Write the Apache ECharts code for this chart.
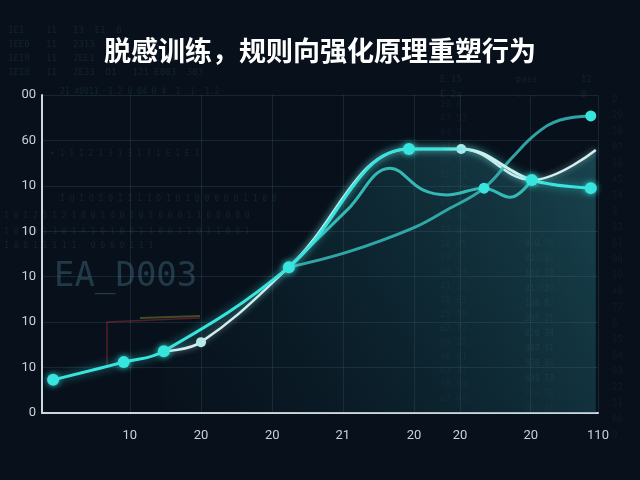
<!DOCTYPE html>
<html><head><meta charset="utf-8">
<script src="https://cdn.jsdelivr.net/npm/echarts@6/dist/echarts.min.js"></script>
<style>html,body{margin:0;padding:0;background:#07101b;}#c{width:640px;height:480px;}</style>
</head><body><div id="c"></div>
<script>
// ---- data ----
const titleText = '脱感训练，规则向强化原理重塑行为';
const xTickValues = [15.8, 28.6, 41.4, 54.1, 66.9, 75.2, 87.9, 100];
const xTickLabels = ['10', '20', '20', '21', '20', '20', '20', '110'];
const yTickLabels = ['0', '10', '10', '10', '10', '10', '60', '00'];

const cyanMain = [[2.0, 7.3], [14.7, 11.2], [21.9, 13.6], [44.4, 32.1], [66.0, 58.1], [75.4, 58.1], [88.1, 51.3], [98.7, 49.5]];
const cyanMainDot = [1, 1, 1, 1, 1, 0, 1, 1];
const whiteLine = [[21.9, 13.6], [28.6, 15.6], [44.4, 32.1], [66.0, 58.1], [75.4, 58.1], [88.1, 51.3], [99.6, 57.9]];
const whiteLineDot = [0, 1, 0, 0, 1, 0, 0];
const midTeal = [[44.4, 32.1], [54.9, 44.7], [62.6, 53.9], [68.5, 49.1], [72.8, 48.0], [79.5, 49.5], [84.2, 47.5], [88.1, 51.3]];
const midTealDot = [0, 0, 0, 0, 0, 1, 0, 0];
const lowTeal = [[44.4, 32.1], [54.9, 35.4], [66.7, 40.7], [72.8, 44.7], [79.5, 49.5], [84.7, 56.4], [89.0, 61.6], [93.2, 64.5], [98.7, 65.4]];
const lowTealDot = [0, 0, 0, 0, 0, 0, 0, 0, 1];

function withDots(arr, flags, size) {
  return arr.map((p, i) => ({ value: p, symbolSize: flags[i] ? size : 0 }));
}

const chart = echarts.init(document.getElementById('c'), null, { renderer: 'canvas' });

const faint = 'rgba(70,110,130,0.2)';
const deco = [];
function addText(x, y, t, size, color) {
  deco.push({ type: 'text', x: x, y: y, z: -10, silent: true,
    style: { text: t, fill: color || faint, font: (size || 9) + 'px "DejaVu Sans Mono", monospace' } });
}
// background "data" text
addText(8, 26, '1E1    11   I3  E1  0', 9);
addText(8, 40, '1EE0   11   2313  Q    12134', 9);
addText(8, 54, '1E19   11   2EE1  R    121 2201  303', 9);
addText(8, 68, '1E10   11   2E33  D1   121 E003  303', 9);
addText(60, 88, '21 40011  1.2 0 04 0 4  1  1  1.2', 8);
addText(440, 75, 'E 15          pass        12', 9);
addText(440, 90, 'E 2a          .  .        0', 9);
addText(50, 150, '• 1 1 I 2 1 3 1 3 1 3 1 E 1 E 1', 8);
addText(60, 195, 'I O I O I 0 I 1 1 1 O I 0 1 0 0 0 0 0 1 1 0 0', 8);
addText(4, 212, 'I 0 I 2 1 I 2 1 0 0 1 4 0 1 0 I 0 0 0 1 1 0 0 0 0 0', 8);
addText(4, 228, 'I 0 0 0 1 3 0 1 A 1 0 1 0 0 1 1 0 0 1 1 0 1 1 0 0 1', 8);
addText(4, 242, 'I 0 0 1 1 1 1 1   0 0 0 0 1 1 1', 8);
for (let i = 0; i < 22; i++) {
  const v = ((i * 37) % 90 + 10);
  addText(440, 100 + i * 14, v + ' ' + ((i * 53) % 97), 9, 'rgba(70,110,130,0.13)');
  addText(612, 95 + i * 16, String((i * 29) % 100), 9, 'rgba(70,110,130,0.13)');
  addText(525, 240 + (i % 12) * 15, ((i * 71) % 1000) + ' ' + ((i * 13) % 100), 8, 'rgba(70,110,130,0.12)');
}
deco.push({ type: 'text', x: 54, y: 260, z: -10, silent: true,
  style: { text: 'EA_D003', fill: 'rgba(60,100,115,0.5)', font: '34px "DejaVu Sans Mono", monospace' } });
deco.push({ type: 'polyline', z: -5, silent: true, shape: { points: [[107, 366], [107, 322], [200, 318]] },
  style: { stroke: 'rgba(150,40,50,0.55)', lineWidth: 1.5, fill: null } });
deco.push({ type: 'line', z: -5, silent: true, shape: { x1: 140, y1: 318, x2: 200, y2: 316 },
  style: { stroke: 'rgba(120,140,50,0.5)', lineWidth: 2 } });

const cyan = '#37e4de';
const option = {
  backgroundColor: '#07101b',
  animation: false,
  title: {
    text: titleText, left: 'center', top: 32,
    textStyle: { color: '#ffffff', fontSize: 27, fontWeight: 'bold', fontFamily: '"Noto Sans CJK SC", sans-serif' }
  },
  graphic: deco,
  grid: { left: 42, right: 42, top: 95, bottom: 67 },
  xAxis: {
    type: 'value', min: 0, max: 100,
    axisLine: { show: true, lineStyle: { color: '#cfd6dc', width: 2 } },
    axisTick: { show: false, customValues: xTickValues },
    axisLabel: {
      customValues: xTickValues, margin: 16, color: '#c9d1d8', fontSize: 13, fontFamily: 'Roboto, sans-serif',
      formatter: function (v) { const i = xTickValues.indexOf(v); return i >= 0 ? xTickLabels[i] : ''; }
    },
    splitLine: { show: true, lineStyle: { color: 'rgba(90,130,150,0.2)', width: 1 } }
  },
  yAxis: {
    type: 'value', min: 0, max: 70, interval: 10,
    axisLine: { show: true, lineStyle: { color: '#cfd6dc', width: 2 } },
    axisTick: { show: false },
    axisLabel: {
      margin: 6, color: '#c9d1d8', fontSize: 13, fontFamily: 'Roboto, sans-serif',
      formatter: function (v) { return yTickLabels[Math.round(v / 10)]; }
    },
    splitLine: { show: true, lineStyle: { color: 'rgba(90,130,150,0.2)', width: 1 } }
  },
  series: [
    {
      name: 'white', type: 'line', smooth: 0.4, z: 2,
      data: withDots(whiteLine, whiteLineDot, 10),
      symbol: 'circle', itemStyle: { color: '#b6e8e8' },
      lineStyle: { color: '#d6eef0', width: 2.5, shadowBlur: 6, shadowColor: 'rgba(200,255,255,0.5)' },
      areaStyle: {
        color: new echarts.graphic.LinearGradient(0, 1, 1, 0, [
          { offset: 0, color: 'rgba(20,60,70,0.05)' },
          { offset: 0.5, color: 'rgba(30,100,110,0.35)' },
          { offset: 1, color: 'rgba(50,140,150,0.6)' }
        ])
      }
    },
    {
      name: 'lowTeal', type: 'line', smooth: 0.4, z: 3,
      data: withDots(lowTeal, lowTealDot, 11), symbol: 'circle', itemStyle: { color: cyan },
      lineStyle: { color: 'rgba(52,180,178,0.9)', width: 3 }
    },
    {
      name: 'midTeal', type: 'line', smooth: 0.4, z: 3,
      data: withDots(midTeal, midTealDot, 11), symbol: 'circle', itemStyle: { color: cyan },
      lineStyle: { color: 'rgba(56,200,196,0.9)', width: 3 }
    },
    {
      name: 'cyanMain', type: 'line', smooth: 0.4, z: 4,
      data: withDots(cyanMain, cyanMainDot, 12), symbol: 'circle',
      itemStyle: { color: cyan, shadowBlur: 6, shadowColor: 'rgba(60,240,230,0.8)' },
      lineStyle: {
        width: 3, shadowBlur: 8, shadowColor: 'rgba(60,240,230,0.6)',
        color: new echarts.graphic.LinearGradient(0, 0, 1, 0, [
          { offset: 0, color: cyan }, { offset: 0.72, color: cyan },
          { offset: 0.79, color: '#cdeff0' }, { offset: 0.86, color: '#cdeff0' },
          { offset: 0.91, color: cyan }, { offset: 1, color: cyan }
        ])
      }
    }
  ]
};
chart.setOption(option);
</script>
</body></html>
